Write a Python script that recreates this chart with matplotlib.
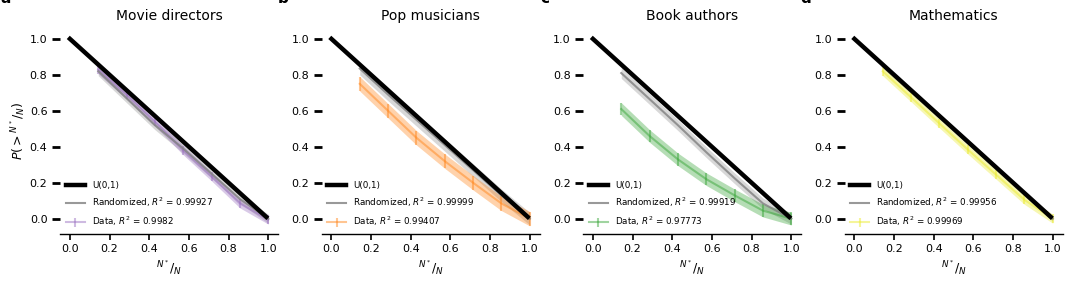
import numpy as np
import matplotlib
matplotlib.use("Agg")
import matplotlib.pyplot as plt

# fraction of career N*/N at which the best work happened (7 bins)
x_bins = [1/7, 2/7, 3/7, 4/7, 5/7, 6/7, 1.0]

# uniform reference U(0,1)
x_unif = [0.0, 0.99]
y_unif = [1.0, 0.01]

titles = ["Movie directors", "Pop musicians", "Book authors", "Mathematics"]
panel_tags = ["a", "b", "c", "d"]
data_colors = ["#9467bd", "#ff7f0e", "#2ca02c", "#eaea20"]

r2_random = ["0.99927", "0.99999", "0.99919", "0.99956"]
r2_data = ["0.9982", "0.99407", "0.97773", "0.99969"]

# randomized curves (mean and error)
rand_movies = [0.82, 0.67, 0.52, 0.39, 0.25, 0.11, 0.0]
rand_pop = [0.835, 0.69, 0.55, 0.41, 0.27, 0.13, 0.0]
rand_books = [0.81, 0.665, 0.52, 0.37, 0.225, 0.085, 0.0]
rand_math = [0.85, 0.71, 0.57, 0.43, 0.285, 0.14, 0.0]
rand_err = [[0.025] * 7, [0.035] * 7, [0.03] * 7, [0.015] * 7]

# data curves (mean and error)
data_movies = [0.83, 0.69, 0.54, 0.38, 0.235, 0.085, -0.005]
data_pop = [0.75, 0.60, 0.45, 0.32, 0.20, 0.085, 0.0]
data_books = [0.61, 0.46, 0.33, 0.22, 0.13, 0.045, 0.0]
data_math = [0.82, 0.675, 0.53, 0.385, 0.245, 0.105, 0.0]
data_err = [[0.025] * 7, [0.04] * 7, [0.035] * 7, [0.025] * 7]

rand_all = [rand_movies, rand_pop, rand_books, rand_math]
data_all = [data_movies, data_pop, data_books, data_math]

fig = plt.figure(figsize=(10.8, 2.88), dpi=100)
tag_x = [0, 278, 540, 800]

for i in range(4):
    left = (60 + 261.5 * i) / 1080
    ax = fig.add_axes([left, 0.1875, 0.202, 0.715])
    x = np.array(x_bins)

    # uniform
    ax.plot(x_unif, y_unif, color="black", lw=3.2, label="U(0,1)", zorder=4)

    # randomized
    r = np.array(rand_all[i])
    re = np.array(rand_err[i])
    ax.fill_between(x, r - re, r + re, color="grey", alpha=0.3, lw=0)
    ax.plot(x, r, color="grey", lw=1.5, alpha=0.8,
            label=f"Randomized, $R^2$ = {r2_random[i]}", zorder=3)

    # data
    d = np.array(data_all[i])
    de = np.array(data_err[i])
    c = data_colors[i]
    ax.fill_between(x, d - de, d + de, color=c, alpha=0.35, lw=0)
    ax.errorbar(x, d, yerr=de, color=c, alpha=0.45, lw=1.5,
                label=f"Data, $R^2$ = {r2_data[i]}", zorder=2)

    ax.set_xlim(-0.05, 1.05)
    ax.set_ylim(-0.085, 1.06)
    ax.set_xticks([0.0, 0.2, 0.4, 0.6, 0.8, 1.0])
    ax.set_yticks([0.0, 0.2, 0.4, 0.6, 0.8, 1.0])
    ax.tick_params(axis="y", length=6, width=2, labelsize=8, pad=3)
    ax.tick_params(axis="x", length=4, width=1.2, labelsize=8)
    for s in ["top", "right", "left"]:
        ax.spines[s].set_visible(False)
    ax.spines["bottom"].set_linewidth(1.0)

    ax.set_title(titles[i], fontsize=10)
    ax.set_xlabel(r"$^{N^*}/_{N}$", fontsize=9, labelpad=3)
    if i == 0:
        ax.set_ylabel(r"$P(>{}^{N^*}/_{N})$", fontsize=9, labelpad=2)

    ax.legend(loc="lower left", frameon=False, fontsize=6.3,
              handlelength=2.2, borderaxespad=0.25, labelspacing=0.65)

    fig.text(tag_x[i] / 1080, 1.005, panel_tags[i], fontsize=11,
             fontweight="bold", va="center", ha="left")

fig.savefig("out.png", dpi=100)
